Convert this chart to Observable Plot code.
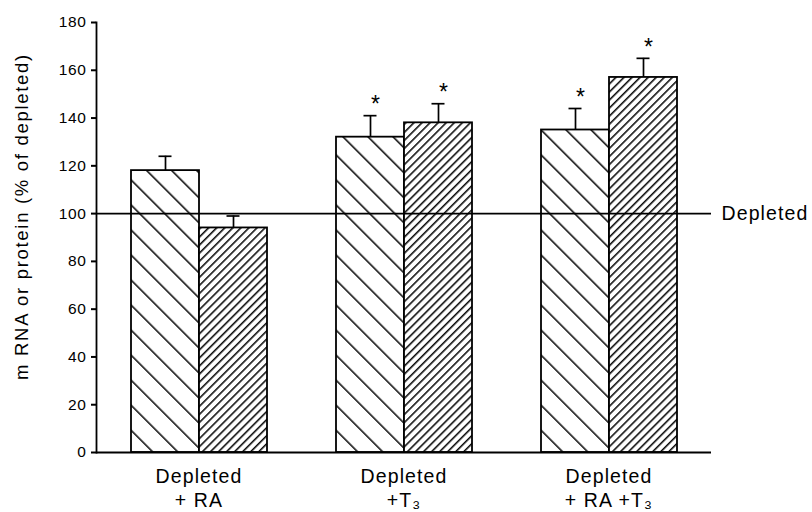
<!DOCTYPE html>
<html>
<head>
<meta charset="utf-8">
<script src="https://cdn.jsdelivr.net/npm/d3@7"></script>
<script src="https://cdn.jsdelivr.net/npm/@observablehq/plot@0.6"></script>
<style>
  html, body { margin: 0; padding: 0; background: #fff; }
  #chart { width: 812px; height: 512px; }
</style>
</head>
<body>
<div id="chart"></div>
<script>
// ---- data ----
const groups = ["Depleted + RA", "Depleted + T3", "Depleted + RA + T3"];
const groupLabels = ["Depleted\n+ RA", "Depleted\n+T₃", "Depleted\n+ RA +T₃"];
const series = ["mRNA", "protein"];
const mrnaValues = [118, 132, 135];
const mrnaErrors = [6, 9, 9];
const mrnaSignificant = [false, true, true];
const proteinValues = [94, 138, 157];
const proteinErrors = [5, 8, 8];
const proteinSignificant = [false, true, true];
const yTicks = [0, 20, 40, 60, 80, 100, 120, 140, 160, 180];
const referenceValue = 100;
const referenceLabel = "Depleted";
const yTitle = "m RNA or protein (% of depleted)";

// ---- table built from arrays ----
const rows = [];
groups.forEach((g, i) => {
  rows.push({group: g, series: series[0], value: mrnaValues[i], err: mrnaErrors[i], sig: mrnaSignificant[i]});
  rows.push({group: g, series: series[1], value: proteinValues[i], err: proteinErrors[i], sig: proteinSignificant[i]});
});
const labelRows = groups.map((g, i) => ({group: g, label: groupLabels[i]}));
const fillFor = {mRNA: "url(#hatchWide)", protein: "url(#hatchFine)"};
const font = "'Liberation Sans', Arial, Helvetica, sans-serif";

const plot = Plot.plot({
  width: 812,
  height: 512,
  marginLeft: 96,
  marginRight: 101,
  marginTop: 22,
  marginBottom: 60,
  style: {fontFamily: font, background: "white", color: "black", overflow: "visible"},
  fx: {domain: groups, padding: 0, axis: null},
  x: {domain: series, paddingInner: 0, paddingOuter: 0.5, axis: null},
  y: {domain: [0, 180]},
  marks: [
    Plot.barY(rows.filter(d => d.series === series[0]), {fx: "group", x: "series", y: "value", fill: fillFor.mRNA, stroke: "black", strokeWidth: 1.8}),
    Plot.barY(rows.filter(d => d.series === series[1]), {fx: "group", x: "series", y: "value", fill: fillFor.protein, stroke: "black", strokeWidth: 1.8}),
    Plot.ruleX(rows, {fx: "group", x: "series", y1: "value", y2: d => d.value + d.err, stroke: "black", strokeWidth: 1.7}),
    Plot.tickY(rows, {fx: "group", x: "series", y: d => d.value + d.err, stroke: "black", strokeWidth: 1.7, insetLeft: 27.5, insetRight: 27.5}),
    Plot.text(rows.filter(d => d.sig), {fx: "group", x: "series", y: d => d.value + d.err, text: () => "*", dx: 5, dy: -11, fontSize: 23, fill: "black"}),
    Plot.ruleY([referenceValue], {stroke: "black", strokeWidth: 1.8}),
    Plot.ruleY([0], {stroke: "black", strokeWidth: 2}),
    Plot.frame({anchor: "left", facetAnchor: "left", stroke: "black", strokeWidth: 1.8}),
    Plot.text([{group: groups[groups.length - 1], label: referenceLabel}], {fx: "group", y: () => referenceValue, text: "label", frameAnchor: "right", textAnchor: "start", dx: 10, fontSize: 19.5, fill: "black"}),
    Plot.text(labelRows, {fx: "group", text: "label", frameAnchor: "bottom", textAnchor: "middle", lineAnchor: "top", dy: 14, lineHeight: 1.2, fontSize: 19.5, fill: "black"}),
    Plot.text([{group: groups[0], label: yTitle}], {fx: "group", text: "label", frameAnchor: "left", textAnchor: "middle", rotate: -90, dx: -74, dy: -21, fontSize: 18.5, fill: "black"}),
    Plot.axisY({ticks: yTicks, tickSize: 5, tickPadding: 5, fontSize: 15.5, label: null, stroke: "black", strokeWidth: 2})
  ]
});

// hatch pattern definitions
const defs = `
<defs>
  <pattern id="hatchWide" patternUnits="userSpaceOnUse" width="17.7" height="17.7" patternTransform="rotate(-45)">
    <rect width="17.7" height="17.7" fill="white"/>
    <line x1="0.8" y1="-1" x2="0.8" y2="19" stroke="black" stroke-width="1.5"/>
  </pattern>
  <pattern id="hatchFine" patternUnits="userSpaceOnUse" width="5.7" height="5.7" patternTransform="rotate(45)">
    <rect width="5.7" height="5.7" fill="white"/>
    <line x1="0.8" y1="-1" x2="0.8" y2="7" stroke="black" stroke-width="1.5"/>
  </pattern>
</defs>`;
plot.insertAdjacentHTML("afterbegin", defs);

// letter spacing to approximate the wider original typeface
const spacing = {"19.5": "1.1px", "18.5": "1.7px", "15.5": "0.6px"};
plot.querySelectorAll("g[font-size]").forEach(g => {
  const s = spacing[g.getAttribute("font-size")];
  if (s) g.setAttribute("letter-spacing", s);
});
document.getElementById("chart").appendChild(plot);
</script>
</body>
</html>
